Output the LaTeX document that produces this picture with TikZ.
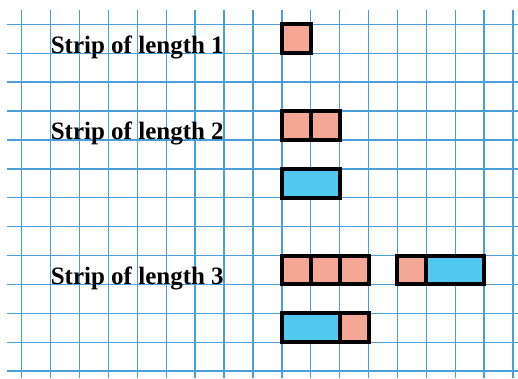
\documentclass[tikz,border=0pt]{standalone}
\usepackage{fontspec}
\setmainfont{Liberation Serif}
\definecolor{gridblue}{RGB}{74,159,219}
\definecolor{salmon}{RGB}{243,167,148}
\definecolor{skyblue}{RGB}{80,200,240}
\tikzset{
  gridline/.style={draw=gridblue, line width=1.4pt},
  unitsq/.style={fill=salmon, draw=black, line width=4pt},
  domino/.style={fill=skyblue, draw=black, line width=4pt},
  label/.style={anchor=base west, inner sep=0pt, font=\fontsize{25}{30}\selectfont\bfseries}
}
\begin{document}
\begin{tikzpicture}[x=28.9pt, y=-28.9pt]
\useasboundingbox (-0.751,-0.841) rectangle (17.173,12.239);
% grid
\foreach \i in {0,...,17} \draw[gridline] (\i,-0.495) -- (\i,12.239);
\foreach \j in {0,...,12} \draw[gridline] (-0.509,\j) -- (17.173,\j);
% labels
\node[label] (l1) at (1,1) {Strip of length 1};
\node[label] (l2) at (1,4) {Strip of length 2};
\node[label] (l3) at (1,9) {Strip of length 3};
% length 1
\draw[unitsq] (9,0) rectangle (10,1);
% length 2
\draw[unitsq] (9,3) rectangle (10,4);
\draw[unitsq] (10,3) rectangle (11,4);
\draw[domino] (9,5) rectangle (11,6);
% length 3
\draw[unitsq] (9,8) rectangle (10,9);
\draw[unitsq] (10,8) rectangle (11,9);
\draw[unitsq] (11,8) rectangle (12,9);
\draw[unitsq] (13,8) rectangle (14,9);
\draw[domino] (14,8) rectangle (16,9);
\draw[domino] (9,10) rectangle (11,11);
\draw[unitsq] (11,10) rectangle (12,11);
\end{tikzpicture}
\end{document}
